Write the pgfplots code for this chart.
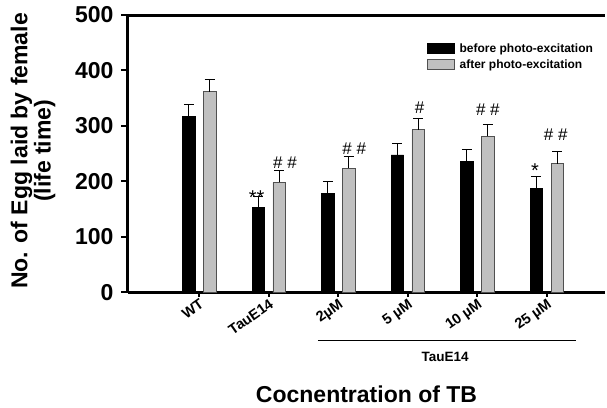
\documentclass[border=0pt]{standalone}
\usepackage{fontspec}
\setmainfont{Liberation Sans}
\usepackage{pgfplots}
\usepackage{pgfplotstable}
\pgfplotsset{compat=1.18}
\definecolor{barGray}{HTML}{C0C0C0}
\definecolor{edgeGray}{HTML}{505050}

\pgfplotstableread{
x y e
0 317 22
1 153 20
2 179 21
3 248 21
4 236 22
5 187 21
}\before
\pgfplotstableread{
x y e
0 362 22
1 198 21
2 224 21
3 293 21
4 281 21
5 232 21
}\after

\begin{document}
\begin{tikzpicture}
\path[use as bounding box] (-128pt,-114.7pt) rectangle (479pt,292.3pt);
\begin{axis}[
  at={(0pt,0pt)}, anchor=south west,
  scale only axis, width=477pt, height=277.3pt,
  xmin=-1.026, xmax=5.837, ymin=0, ymax=500,
  clip=false,
  axis x line*=bottom, axis y line*=left,
  axis line style={line width=3pt, black},
  tick align=outside,
  ytick={0,100,...,500},
  xtick={0,1,2,3,4,5},
  xticklabels={WT,TauE14,2µM,5 µM,10 µM,25 µM},
  ytick style={line width=2pt, black, /pgfplots/major tick length=6.5pt},
  xtick style={line width=2pt, black, /pgfplots/major tick length=4.5pt},
  /pgf/number format/assume math mode=true,
  yticklabel style={font=\bfseries\fontsize{23}{25}\selectfont, inner sep=0pt, xshift=-10pt},
  xticklabel style={font=\bfseries\fontsize{14.5}{15}\selectfont, rotate=35, anchor=north east, inner sep=1pt},
  ylabel={\begin{tabular}{@{}c@{}}No. of Egg laid by female\\(life time)\end{tabular}},
  every axis y label/.style={at={(axis description cs:-0.197,0.51)}, rotate=90, anchor=center, font=\bfseries\fontsize{23}{22}\selectfont},
  xlabel={Cocnentration of TB},
  every axis x label/.style={at={(axis description cs:0.5,-0.398)}, anchor=base, font=\bfseries\fontsize{23}{24}\selectfont},
  ybar, bar width=0.18,
  error bars/y dir=plus,
  error bars/y explicit,
  error bars/error bar style={line width=1pt, black},
  error bars/error mark options={rotate=90, mark size=5pt, line width=1pt, black},
  legend image code/.code={\draw[#1] (0pt,-5pt) rectangle (27pt,5pt);},
  legend style={draw=none, fill=none, at={(axis description cs:0.626,0.902)}, anchor=north west,
    font=\bfseries\fontsize{12}{13}\selectfont, inner sep=0pt, row sep=4pt,
    nodes={inner sep=1pt}, column sep=4pt},
  legend cell align=left,
]
\addplot[fill=black, draw=black, bar shift=-0.15] table[x=x, y=y, y error=e] {\before};
\addlegendentry{before photo-excitation}
\addplot[fill=barGray, draw=edgeGray, line width=0.8pt, bar shift=0.15] table[x=x, y=y, y error=e] {\after};
\addlegendentry{after photo-excitation}

\node[font=\fontsize{17}{17}\selectfont, anchor=base] at (axis cs:1.233,222.6) {\# \#};
\node[font=\fontsize{17}{17}\selectfont, anchor=base] at (axis cs:2.229,249) {\# \#};
\node[font=\fontsize{17}{17}\selectfont, anchor=base] at (axis cs:3.168,323) {\#};
\node[font=\fontsize{17}{17}\selectfont, anchor=base] at (axis cs:4.151,318) {\# \#};
\node[font=\fontsize{17}{17}\selectfont, anchor=base] at (axis cs:5.128,273.6) {\# \#};
\node[font=\fontsize{20}{20}\selectfont, anchor=base] at (axis cs:0.826,157.6) {**};
\node[font=\fontsize{20}{20}\selectfont, anchor=base] at (axis cs:4.83,207) {*};

\draw[line width=3pt] (axis description cs:0,1) -- (axis description cs:1,1);
\draw[line width=1.5pt] (axis description cs:0.398,-0.1745) -- (axis description cs:0.939,-0.1745);
\node[font=\bfseries\fontsize{13.5}{14}\selectfont, anchor=base] at (axis description cs:0.665,-0.250) {TauE14};
\end{axis}
\end{tikzpicture}
\end{document}
